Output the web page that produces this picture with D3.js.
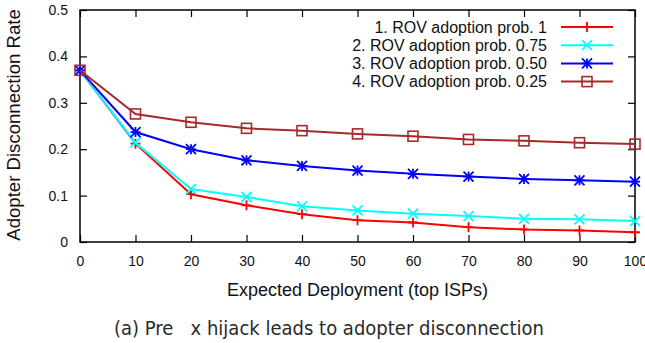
<!DOCTYPE html>
<html>
<head>
<meta charset="utf-8">
<script src="https://cdn.jsdelivr.net/npm/d3@7"></script>
<style>
body { margin: 0; background: #fff; }
text { font-family: "Liberation Sans", Arial, sans-serif; fill: #111; }
</style>
</head>
<body>
<div id="chart"></div>
<script>
var deploy = [0, 10, 20, 30, 40, 50, 60, 70, 80, 90, 100];
var prob1 = [0.37, 0.212, 0.103, 0.079, 0.06, 0.047, 0.042, 0.032, 0.027, 0.025, 0.021];
var prob075 = [0.37, 0.214, 0.114, 0.097, 0.077, 0.068, 0.061, 0.056, 0.05, 0.049, 0.045];
var prob050 = [0.37, 0.237, 0.2, 0.176, 0.164, 0.154, 0.147, 0.141, 0.136, 0.133, 0.13];
var prob025 = [0.37, 0.276, 0.258, 0.245, 0.24, 0.233, 0.228, 0.221, 0.218, 0.214, 0.211];
var seriesNames = ["1. ROV adoption prob. 1", "2. ROV adoption prob. 0.75", "3. ROV adoption prob. 0.50", "4. ROV adoption prob. 0.25"];
var yTicks = [0, 0.1, 0.2, 0.3, 0.4, 0.5];

var W = 645, H = 343;
var pLeft = 80, pRight = 635, pTop = 10, pBottom = 242;

var series = [
  {name: seriesNames[0], vals: prob1, color: "#ff0000", mark: "plus"},
  {name: seriesNames[1], vals: prob075, color: "#00ffff", mark: "cross"},
  {name: seriesNames[2], vals: prob050, color: "#0000ff", mark: "star"},
  {name: seriesNames[3], vals: prob025, color: "#a52a2a", mark: "square"}
];

var svg = d3.select("#chart").append("svg")
    .attr("width", W)
    .attr("height", H);

var x = d3.scaleLinear().domain([0, 100]).range([pLeft, pRight]);
var y = d3.scaleLinear().domain([0, 0.5]).range([pBottom, pTop]);

// axes, ticks point inward on all four sides
var xAxis = svg.append("g")
    .attr("transform", "translate(0," + pBottom + ")")
    .call(d3.axisBottom(x).tickValues(deploy).tickSizeInner(-7).tickSizeOuter(0).tickPadding(14));
var xTop = svg.append("g")
    .attr("transform", "translate(0," + pTop + ")")
    .call(d3.axisTop(x).tickValues(deploy).tickSizeInner(-7).tickSizeOuter(0).tickFormat(""));
var yAxis = svg.append("g")
    .attr("transform", "translate(" + pLeft + ",0)")
    .call(d3.axisLeft(y).tickValues(yTicks).tickSizeInner(-7).tickSizeOuter(0).tickPadding(12)
      .tickFormat(function(d) { return d === 0 ? "0" : d3.format(".1f")(d); }));
var yRight = svg.append("g")
    .attr("transform", "translate(" + pRight + ",0)")
    .call(d3.axisRight(y).tickValues(yTicks).tickSizeInner(-7).tickSizeOuter(0).tickFormat(""));

[xAxis, xTop, yAxis, yRight].forEach(function(a) {
  a.select(".domain").remove();
  a.selectAll(".tick line").attr("stroke", "#000").attr("stroke-width", 1.2);
  a.selectAll(".tick text").attr("font-size", 14).attr("fill", "#111")
    .style("font-family", "'Liberation Sans', Arial, sans-serif");
});

svg.append("rect")
    .attr("x", pLeft).attr("y", pTop)
    .attr("width", pRight - pLeft).attr("height", pBottom - pTop)
    .attr("fill", "none").attr("stroke", "#000").attr("stroke-width", 1.5);

// axis titles
svg.append("text")
    .attr("x", (pLeft + pRight) / 2).attr("y", 296)
    .attr("text-anchor", "middle").attr("font-size", 18)
    .text("Expected Deployment (top ISPs)");

svg.append("text")
    .attr("transform", "translate(20,125) rotate(-90)")
    .attr("text-anchor", "middle").attr("font-size", 18.6)
    .text("Adopter Disconnection Rate");

// caption (the "fi" glyph is missing in the source figure)
svg.append("text")
    .attr("x", 329).attr("y", 335)
    .attr("text-anchor", "middle").attr("font-size", 20)
    .attr("textLength", 430).attr("lengthAdjust", "spacingAndGlyphs")
    .style("font-family", "'DejaVu Sans', sans-serif")
    .style("fill", "#2a2a2a")
    .text("(a) Pre\u00a0\u00a0\u00a0x hijack leads to adopter disconnection");

function drawMark(g, type, cx, cy, color) {
  var s = 5;
  if (type === "plus" || type === "star") {
    g.append("path")
      .attr("d", "M" + (cx - s) + "," + cy + "H" + (cx + s) + "M" + cx + "," + (cy - s) + "V" + (cy + s))
      .attr("stroke", color).attr("stroke-width", 1.8);
  }
  if (type === "cross" || type === "star") {
    g.append("path")
      .attr("d", "M" + (cx - s) + "," + (cy - s) + "L" + (cx + s) + "," + (cy + s) +
        "M" + (cx - s) + "," + (cy + s) + "L" + (cx + s) + "," + (cy - s))
      .attr("stroke", color).attr("stroke-width", 1.8);
  }
  if (type === "square") {
    g.append("rect")
      .attr("x", cx - s).attr("y", cy - s).attr("width", 2 * s).attr("height", 2 * s)
      .attr("fill", "none").attr("stroke", color).attr("stroke-width", 1.6);
  }
}

var line = d3.line()
    .x(function(d, i) { return x(deploy[i]); })
    .y(function(d) { return y(d); });

series.forEach(function(s) {
  var g = svg.append("g");
  g.append("path")
    .attr("d", line(s.vals))
    .attr("fill", "none").attr("stroke", s.color).attr("stroke-width", 2);
  s.vals.forEach(function(v, i) {
    drawMark(g, s.mark, x(deploy[i]), y(v), s.color);
  });
});

// legend
var legend = svg.append("g");
series.forEach(function(s, i) {
  var ly = 27 + i * 18.2;
  legend.append("text")
    .attr("x", 547).attr("y", ly).attr("dy", "0.35em")
    .attr("text-anchor", "end").attr("font-size", 16)
    .text(s.name);
  legend.append("line")
    .attr("x1", 561).attr("x2", 613).attr("y1", ly).attr("y2", ly)
    .attr("stroke", s.color).attr("stroke-width", 2);
  drawMark(legend, s.mark, 587, ly, s.color);
});
</script>
</body>
</html>
